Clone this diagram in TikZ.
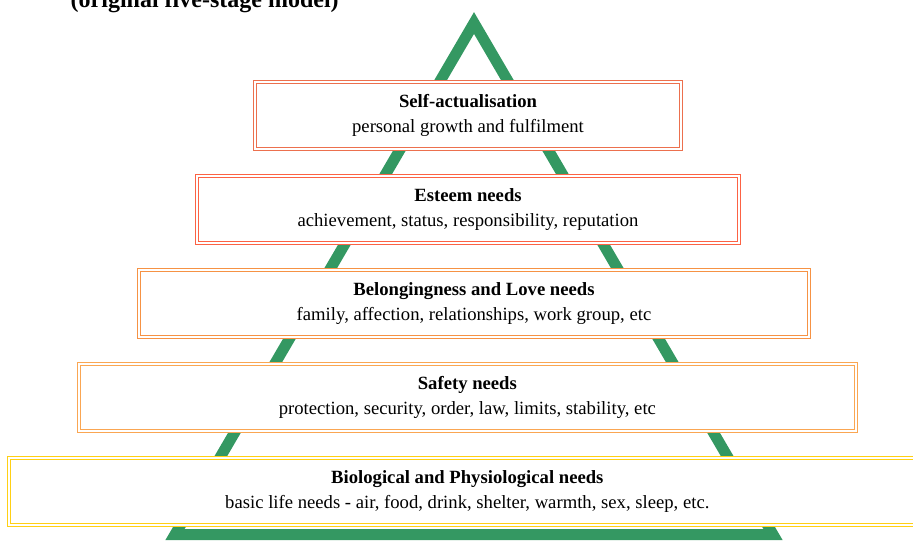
\documentclass[tikz,border=0pt]{standalone}
\usepackage{fontspec}
\setmainfont{Liberation Serif}
\usepackage{xcolor}
\usetikzlibrary{positioning}
\definecolor{pyrgreen}{RGB}{52,152,98}
\definecolor{selfred}{RGB}{236,112,78}
\definecolor{esteemred}{RGB}{252,98,68}
\definecolor{loveorange}{RGB}{246,146,68}
\definecolor{safeorange}{RGB}{250,166,82}
\definecolor{bioyellow}{RGB}{255,208,20}

\begin{document}
\begin{tikzpicture}[x=0.75pt,y=-0.75pt,node distance=19.5pt,
  needbox/.style={draw=#1, double=white, line width=0.8pt, double distance=1.6pt,
    fill=white, minimum height=50.25pt, inner sep=0pt, align=center,
    font=\fontsize{14}{18.75}\selectfont}]
\useasboundingbox (0,0) rectangle (913,544);
\draw[pyrgreen, line width=8.25pt, line join=miter] (474,23) -- (175,534.5) -- (773,534.5) -- cycle;
\node[anchor=base west, font=\fontsize{18}{20}\selectfont\bfseries] (model) at (66,7.5) {(original five-stage model)};
\node[needbox=selfred, minimum width=319.5pt] (self) at (468,115.5) {\textbf{Self-actualisation}\\ personal growth and fulfilment};
\node[needbox=esteemred, minimum width=407pt, below=of self] (esteem) {\textbf{Esteem needs}\\ achievement, status, responsibility, reputation};
\node[needbox=loveorange, minimum width=503pt, below=of esteem, xshift=4.5pt] (love) {\textbf{Belongingness and Love needs}\\ family, affection, relationships, work group, etc};
\node[needbox=safeorange, minimum width=583pt, below=of love, xshift=-5pt] (safety) {\textbf{Safety needs}\\ protection, security, order, law, limits, stability, etc};
\node[needbox=bioyellow, minimum width=687pt, below=of safety] (bio) {\textbf{Biological and Physiological needs}\\ basic life needs - air, food, drink, shelter, warmth, sex, sleep, etc.};
\end{tikzpicture}
\end{document}
